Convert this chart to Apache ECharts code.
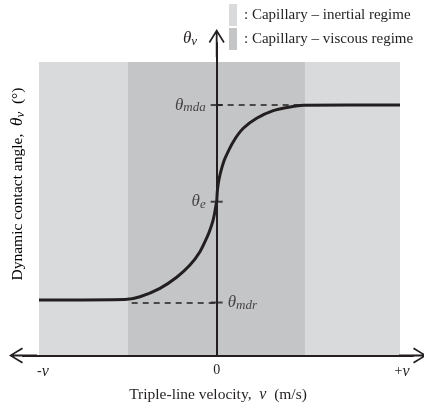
<!DOCTYPE html>
<html><head><meta charset="utf-8">
<script src="https://cdn.jsdelivr.net/npm/echarts@6/dist/echarts.min.js"></script>
<style>html,body{margin:0;padding:0;background:#fff}#c{width:424px;height:407px}</style>
</head><body><div id="c"></div>
<script>
// ---- data ----
const curveX = [-2.009, -1.037, -0.867, -0.641, -0.452, -0.302, -0.189, -0.106, -0.072, -0.045, -0.025, -0.011, 0, 0.007, 0.019, 0.037, 0.062, 0.094, 0.188, 0.301, 0.452, 0.640, 0.829, 0.979, 2.073];
const curveY = [33.6, 33.9, 35.6, 40.7, 47.4, 54.8, 62.9, 72.0, 76.7, 81.1, 85.8, 90.2, 93.2, 99.3, 104.5, 109.4, 114.5, 119.5, 129.6, 137.7, 143.8, 148.4, 150.6, 151.6, 151.8];
const thetaMdr = 32.1, thetaE = 93.2, thetaMda = 151.8;
const mdrStartX = -0.961, mdaEndX = 0.99;
const inertialRange = [-2.009, 2.073];
const viscousRange = [-1.003, 0.998];
const regimeTop = 177.9;
const xTickValues = [-1.964, 0, 2.096];
const xTickLabels = ['{n|-}{i|v}', '{n|0}', '{n|+}{i|v}'];
const legendNames = ['inertial', 'viscous'];
const legendTexts = [': Capillary \u2013 inertial regime', ': Capillary \u2013 viscous regime'];
const xAxisTitle = '{a|Triple-line velocity,  }{i|v}{a|  (m/s)}';
const yAxisTitle = '{a|Dynamic contact angle,  }{t|\u03b8}{s|v}{a|  (\u00b0)}';

const INK = '#231f20', LIGHT = '#d9dadc', DARK = '#c4c5c7';
const SERIF = 'Liberation Serif';
const mathRich = {
  t: {fontFamily: SERIF, fontStyle: 'italic', fontWeight: 'normal', fontSize: 17, lineHeight: 19, color: INK},
  s: {fontFamily: SERIF, fontStyle: 'italic', fontWeight: 'normal', fontSize: 13, lineHeight: 11, verticalAlign: 'bottom', color: INK},
  a: {fontFamily: SERIF, fontWeight: 'normal', fontSize: 15.5, color: INK, lineHeight: 19},
  n: {fontFamily: SERIF, fontWeight: 'normal', fontSize: 14, color: INK},
  i: {fontFamily: SERIF, fontStyle: 'italic', fontWeight: 'normal', fontSize: 16, color: INK}
};
const arrow = 'path://M8,0 L16,13 L14.6,14 L8.9,4.7 L8.9,28 L7.1,28 L7.1,4.7 L1.4,14 L0,13 Z';

const chart = echarts.init(document.getElementById('c'), null, {renderer: 'canvas'});
chart.setOption({
  animation: false,
  backgroundColor: '#fff',
  title: [{
    text: '{t|\u03b8}{s|v}', left: 183, top: 29, padding: 0,
    textStyle: {rich: mathRich, fontWeight: 'normal'}
  }],
  graphic: [{
    type: 'text', x: 18, y: 184, rotation: Math.PI / 2, silent: true,
    style: {text: yAxisTitle, rich: mathRich, align: 'center', verticalAlign: 'middle'}
  }],
  legend: {
    orient: 'vertical', left: 229, top: 4, padding: 0,
    itemWidth: 8, itemHeight: 22, itemGap: 2,
    data: legendNames.map(n => ({name: n, icon: 'rect'})),
    formatter: n => legendTexts[legendNames.indexOf(n)],
    textStyle: {fontFamily: SERIF, fontSize: 15, color: INK, padding: [0, 0, 0, 2]},
    selectedMode: false
  },
  grid: {left: 23, right: 11, top: 43, bottom: 51.5, containLabel: false, outerBoundsMode: 'none'},
  xAxis: {
    type: 'value', min: -2.19, max: 2.22, z: 5,
    axisLine: {show: true, onZero: true, lineStyle: {color: INK, width: 2},
      symbol: [arrow, arrow], symbolSize: [16, 28]},
    axisTick: {show: false}, splitLine: {show: false},
    axisLabel: {
      customValues: xTickValues, margin: 8,
      formatter: v => xTickLabels[xTickValues.indexOf(v)],
      rich: mathRich
    },
    name: xAxisTitle,
    nameLocation: 'middle', nameGap: 30,
    nameTextStyle: {rich: mathRich}
  },
  yAxis: {
    type: 'value', min: 0, max: 189.4, z: 5,
    axisLine: {show: true, onZero: true, lineStyle: {color: INK, width: 2},
      symbol: ['none', arrow], symbolSize: [16, 28]},
    axisTick: {show: false}, splitLine: {show: false}, axisLabel: {show: false}
  },
  series: [
    {
      name: 'inertial', type: 'line', data: [], z: 1,
      itemStyle: {color: LIGHT}, lineStyle: {color: LIGHT},
      markArea: {silent: true, itemStyle: {color: LIGHT},
        data: [[{coord: [inertialRange[0], 0]}, {coord: [inertialRange[1], regimeTop]}]]}
    },
    {
      name: 'viscous', type: 'line', data: [], z: 1,
      itemStyle: {color: DARK}, lineStyle: {color: DARK},
      markArea: {silent: true, itemStyle: {color: DARK},
        data: [[{coord: [viscousRange[0], 0]}, {coord: [viscousRange[1], regimeTop]}]]}
    },
    {
      name: 'dashes', type: 'line', data: [], z: 6,
      markLine: {silent: true, symbol: 'none', label: {show: false},
        lineStyle: {color: INK, type: [6, 5], width: 1.5},
        data: [
          [{coord: [0, thetaMda]}, {coord: [mdaEndX, thetaMda]}],
          [{coord: [mdrStartX, thetaMdr]}, {coord: [0, thetaMdr]}]
        ]}
    },
    {
      name: 'curve', type: 'line', z: 7,
      data: curveX.map((x, i) => [x, curveY[i]]),
      showSymbol: false, symbol: 'none', smooth: 0.2,
      lineStyle: {color: INK, width: 3}
    },
    {
      name: 'ticks', type: 'scatter', z: 8,
      symbol: 'rect', symbolSize: [12, 2],
      itemStyle: {color: INK},
      data: [
        {value: [0, thetaMda], label: {show: true, position: 'left', distance: 5, formatter: '{t|\u03b8}{s|mda}', rich: mathRich}},
        {value: [0, thetaE], label: {show: true, position: 'left', distance: 5, formatter: '{t|\u03b8}{s|e}', rich: mathRich}},
        {value: [0, thetaMdr], label: {show: true, position: 'right', distance: 5, formatter: '{t|\u03b8}{s|mdr}', rich: mathRich}}
      ]
    }
  ]
});
</script>
</body></html>
